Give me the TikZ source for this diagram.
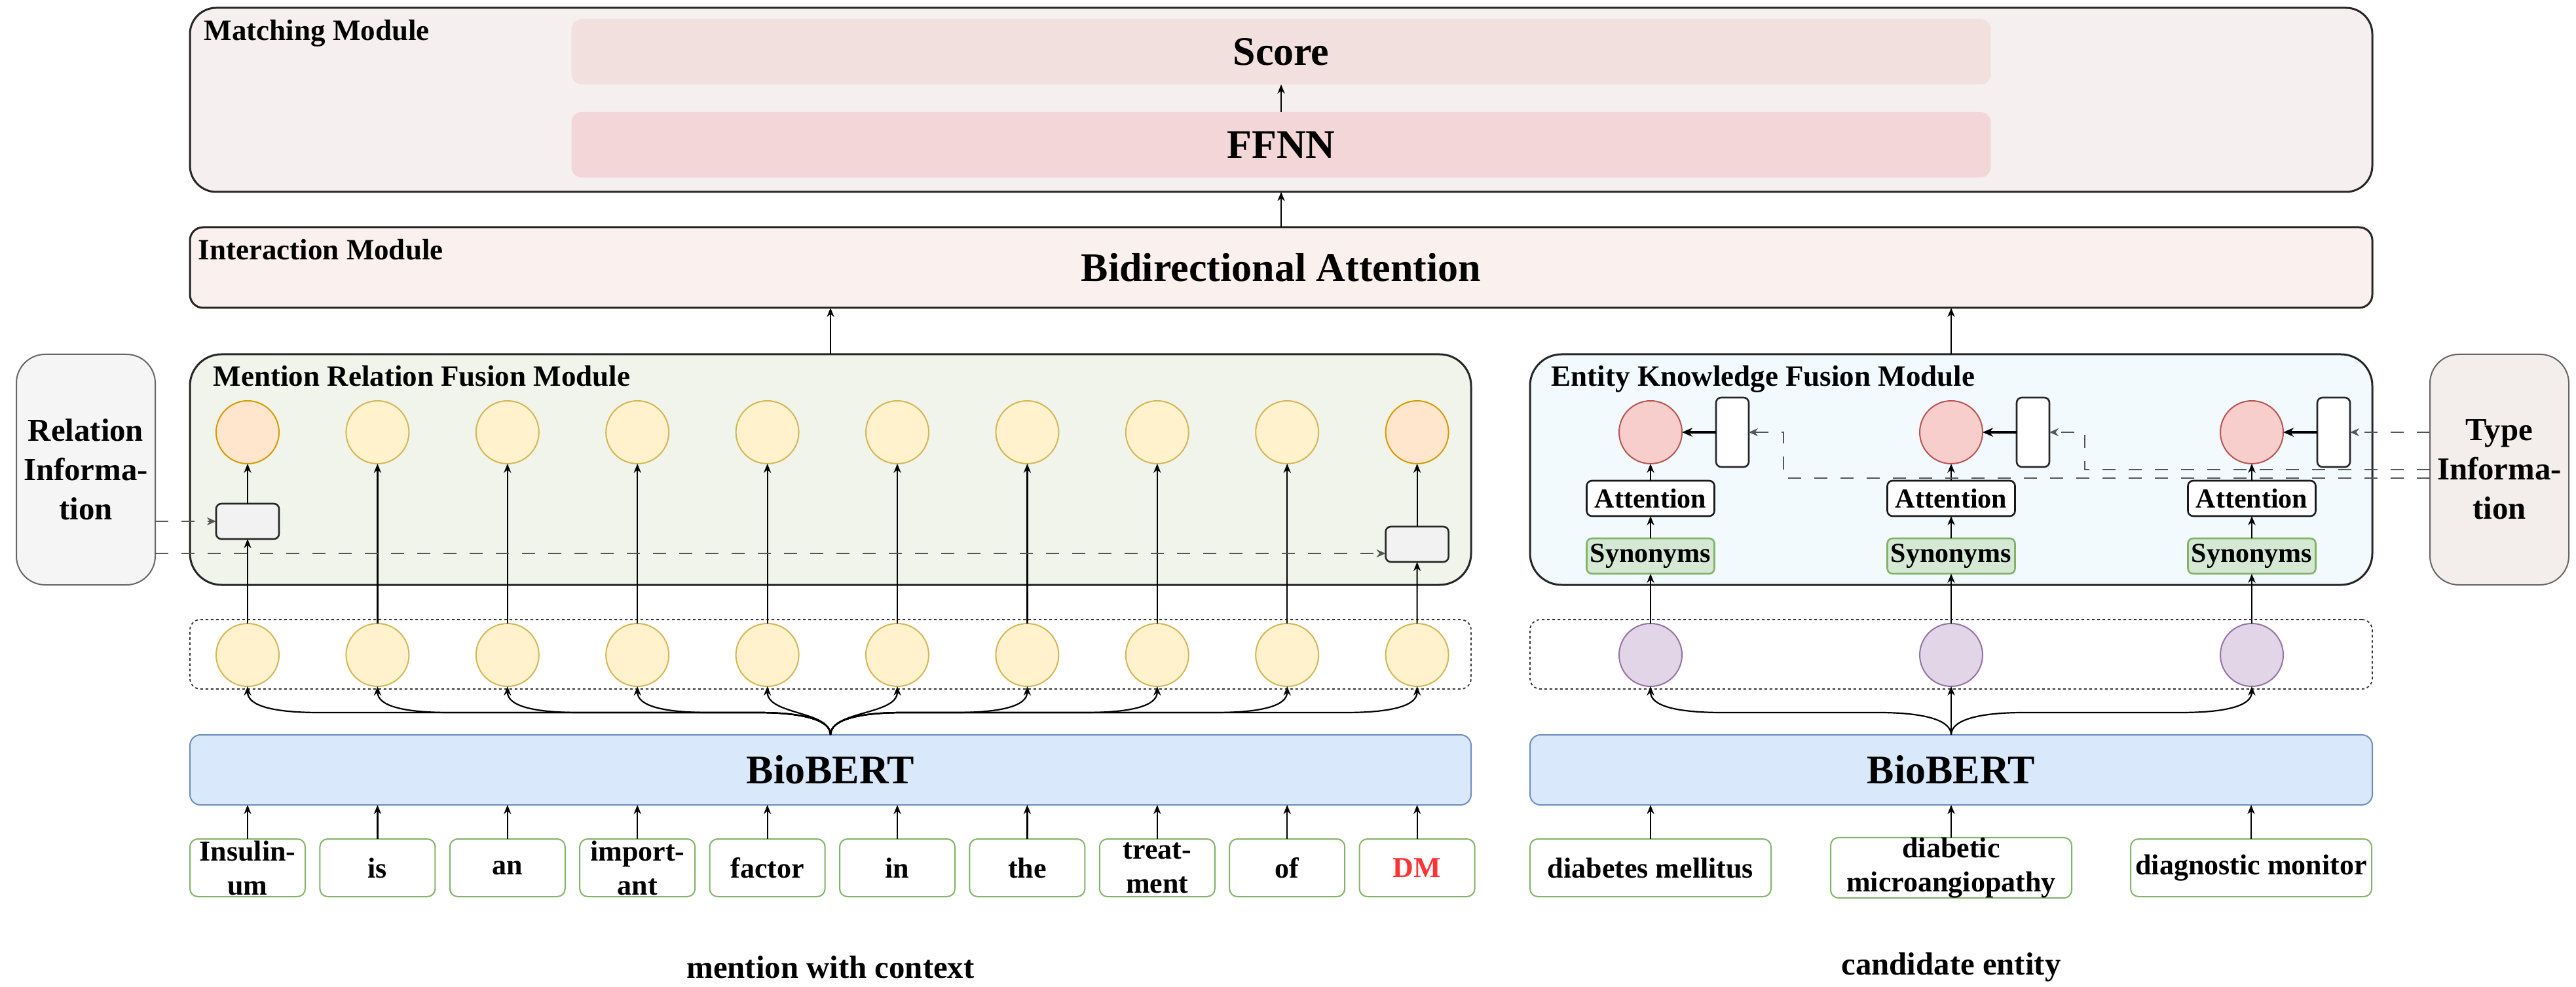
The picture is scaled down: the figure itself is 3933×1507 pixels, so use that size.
\documentclass[tikz,border=0pt]{standalone}
\usepackage{fontspec}
\setmainfont{Liberation Serif}
\usetikzlibrary{arrows.meta,calc}
\definecolor{matchfill}{HTML}{F5EFEF}
\definecolor{scorefill}{HTML}{F2E0DE}
\definecolor{ffnnfill}{HTML}{F2D6D8}
\definecolor{interfill}{HTML}{FAF1EE}
\definecolor{mentfill}{HTML}{F0F4EB}
\definecolor{entfill}{HTML}{F2FAFE}
\definecolor{rifill}{HTML}{F5F5F5}
\definecolor{ridraw}{HTML}{666666}
\definecolor{tyfill}{HTML}{F3EEEB}
\definecolor{yfill}{HTML}{FFF2CC}
\definecolor{ydraw}{HTML}{D6B656}
\definecolor{ofill}{HTML}{FFE6CC}
\definecolor{odraw}{HTML}{D79B00}
\definecolor{pfill}{HTML}{E1D5E7}
\definecolor{pdraw}{HTML}{9673A6}
\definecolor{rfill}{HTML}{F8CECC}
\definecolor{rdraw}{HTML}{B85450}
\definecolor{gfill}{HTML}{D5E8D4}
\definecolor{gdraw}{HTML}{82B366}
\definecolor{bbfill}{HTML}{DAE8FC}
\definecolor{bbdraw}{HTML}{6C8EBF}
\definecolor{sbfill}{HTML}{F2F2F2}
\definecolor{dmred}{HTML}{FF3333}
\definecolor{dgray}{HTML}{555555}
\begin{document}
\begin{tikzpicture}[x=0.25pt,y=-0.25pt,
  box/.style={rectangle, inner sep=0pt, outer sep=0pt},
  mod/.style={box, draw=black!85, line width=0.75pt, rounded corners=12pt},
  bigtxt/.style={font=\bfseries\fontsize{15.5}{18}\selectfont},
  lbl/.style={anchor=base west, inner sep=0pt, font=\bfseries\fontsize{11.25}{13}\selectfont},
  circ/.style={circle, draw, line width=0.5pt, minimum size=24pt, inner sep=0pt, outer sep=0pt},
  ycirc/.style={circ, fill=yfill, draw=ydraw},
  ocirc/.style={circ, fill=ofill, draw=odraw},
  pcirc/.style={circ, fill=pfill, draw=pdraw},
  rcirc/.style={circ, fill=rfill, draw=rdraw},
  tok/.style={box, draw=gdraw, fill=white, line width=0.5pt, rounded corners=3pt, minimum width=44pt, minimum height=22pt, align=center, font=\bfseries\fontsize{11}{13}\selectfont},
  infobox/.style={box, line width=0.5pt, rounded corners=11pt, minimum width=53pt, minimum height=88pt, align=center, font=\bfseries\fontsize{12.2}{15}\selectfont},
  ctn/.style={box, draw=black!80, line width=0.45pt, dash pattern=on 1pt off 1pt, rounded corners=4pt, minimum height=26.5pt},
  bert/.style={box, draw=bbdraw, fill=bbfill, line width=0.5pt, rounded corners=4pt, minimum height=26.75pt, bigtxt},
  smallbox/.style={box, draw=black!85, fill=sbfill, line width=0.65pt, rounded corners=2pt, minimum width=24pt, minimum height=13.5pt},
  tallbox/.style={box, draw=black!85, fill=white, line width=0.65pt, rounded corners=2pt, minimum width=12.5pt, minimum height=26.5pt},
  attbox/.style={box, draw=black!90, fill=white, line width=0.65pt, rounded corners=2pt, minimum width=48.75pt, minimum height=13.5pt, font=\bfseries\fontsize{10.5}{12}\selectfont},
  synbox/.style={attbox, draw=gdraw, fill=gfill},
  arr/.style={-{Stealth[length=3.5pt,width=2.8pt]}, line width=0.55pt},
  thickarr/.style={-{Stealth[length=4pt,width=3.4pt]}, line width=0.9pt},
  dsh/.style={-{Stealth[length=3.5pt,width=3pt]}, draw=dgray, line width=0.65pt, dash pattern=on 5pt off 5pt},
  bottxt/.style={inner sep=0pt, font=\bfseries\fontsize{12.2}{14}\selectfont}
]
\useasboundingbox (0,0) rectangle (3933,1507);
\fill[white] (0,0) rectangle (3933,1507);

% ---------- Matching module ----------
\node[mod, rounded corners=10pt, fill=matchfill, minimum width=833pt, minimum height=70.25pt] (mm) at (1956,152.5) {};
\node[lbl] (mmL) at (311,62) {Matching Module};
\node[box, fill=scorefill, rounded corners=4pt, minimum width=541.75pt, minimum height=25pt, bigtxt] (score) at (1956,79) {Score};
\node[box, fill=ffnnfill, rounded corners=4pt, minimum width=541.75pt, minimum height=25pt, bigtxt] (ffnn) at (1956,221) {FFNN};
\draw[arr] (ffnn.north) -- (score.south);

% ---------- Interaction module ----------
\node[mod, rounded corners=5pt, fill=interfill, minimum width=833pt, minimum height=30.75pt, bigtxt] (im) at (1956,408.5) {Bidirectional Attention};
\node[lbl] (imL) at (302,397) {Interaction Module};
\draw[arr] (im.north) -- (im.north |- mm.south);

% ---------- Fusion modules ----------
\node[mod, fill=mentfill, minimum width=489pt, minimum height=88pt] (mrf) at (1268,717) {};
\node[lbl] (mrfL) at (325,590) {Mention Relation Fusion Module};
\node[mod, fill=entfill, minimum width=321.5pt, minimum height=88pt] (ekf) at (2979,717) {};
\node[lbl] (ekfL) at (2368,590) {Entity Knowledge Fusion Module};
\draw[arr] (mrf.north) -- (mrf.north |- im.south);
\draw[arr] (ekf.north) -- (ekf.north |- im.south);

\node[infobox, draw=ridraw, fill=rifill] (ri) at (131,717) {Relation\\Informa-\\tion};
\node[infobox, draw=ridraw, fill=tyfill] (ty) at (3816,717) {Type\\Informa-\\tion};

% ---------- containers and BioBERT ----------
\node[ctn, minimum width=489pt] (mc) at (1268,999) {};
\node[ctn, minimum width=321.5pt] (ec) at (2979,999) {};
\node[bert, minimum width=489pt] (bm) at (1268,1175.5) {BioBERT};
\node[bert, minimum width=321.5pt] (be) at (2979,1175.5) {BioBERT};

% ---------- mention tokens ----------
\foreach \w [count=\i from 0] in {{Insulin-\\um},is,an,{import-\\ant},factor,in,the,{treat-\\ment},of,{\textcolor{dmred}{DM}}} {
  \pgfmathsetmacro\xx{378+198.4*\i}
  \node[tok] (w\i) at (\xx,1325) {\w};
  \node[ycirc] (l\i) at (\xx,1000) {};
  \draw[arr] (w\i.north) -- (w\i.north |- bm.south);
}
\foreach \i in {1,...,8} {
  \pgfmathsetmacro\xx{378+198.4*\i}
  \node[ycirc] (u\i) at (\xx,660) {};
  \draw[arr] (l\i.north) -- (u\i.south);
}
\node[ocirc] (u0) at (378,660) {};
\node[ocirc] (u9) at (2163.6,660) {};
\node[smallbox] (sb0) at (378,796) {};
\node[smallbox] (sb9) at (2163.6,831) {};
\draw[arr] (l0.north) -- (sb0.south);
\draw[arr] (sb0.north) -- (u0.south);
\draw[arr] (l9.north) -- (sb9.south);
\draw[arr] (sb9.north) -- (u9.south);

\coordinate (sb9in) at ([yshift=-3.5pt]sb9.west);
\draw[dsh] (ri.east |- sb0.west) -- (sb0.west);
\draw[dsh] (sb9in -| ri.east) -- (sb9in);

% fan from mention BioBERT
\foreach \tg/\X/\s in {l0/378/-1, l1/576.4/-1, l2/774.8/-1, l3/973.2/-1, l6/1568.4/1, l7/1766.8/1, l8/1965.2/1, l9/2163.6/1} {
  \pgfmathsetmacro\a{1268+\s*110}
  \pgfmathsetmacro\b{\X-\s*110}
  \pgfmathsetmacro\c{1268+\s*50}
  \pgfmathsetmacro\d{\X-\s*40}
  \draw[arr] (bm.north) .. controls (1268,1097) and (\c,1088) .. (\a,1088) -- (\b,1088) .. controls (\d,1088) and (\X,1078) .. (\tg.south);
}
\foreach \tg/\X in {l4/1171.6, l5/1370} {
  \draw[arr] (bm.north) .. controls (1268,1085) and (\X,1092) .. (\tg.south);
}

% ---------- entity side ----------
\foreach \X [count=\i from 0] in {2520,2979,3438} {
  \node[rcirc] (e\i) at (\X,660) {};
  \node[tallbox] (tb\i) at (\X+125,660) {};
  \node[attbox] (at\i) at (\X,761) {Attention};
  \node[synbox] (sy\i) at (\X,849) {Synonyms};
  \node[pcirc] (p\i) at (\X,1000) {};
  \draw[arr] (p\i.north) -- (sy\i.south);
  \draw[arr] (sy\i.north) -- (at\i.south);
  \draw[arr] (at\i.north) -- (e\i.south);
  \draw[thickarr] (tb\i.west) -- (e\i.east);
}
\node[tok, minimum width=92pt] (c0) at (2520,1325) {diabetes mellitus};
\node[tok, minimum width=92pt] (c1) at (2979,1325) {diabetic\\microangiopathy};
\node[tok, minimum width=92pt] (c2) at (3437,1325) {diagnostic monitor};
\foreach \i in {0,1,2} {
  \draw[arr] (c\i.north) -- (c\i.north |- be.south);
}
\draw[arr] (be.north) -- (p1.south);
\foreach \tg/\X/\s in {p0/2520/-1, p2/3438/1} {
  \pgfmathsetmacro\a{2979+\s*110}
  \pgfmathsetmacro\b{\X-\s*110}
  \pgfmathsetmacro\c{2979+\s*50}
  \pgfmathsetmacro\d{\X-\s*40}
  \draw[arr] (be.north) .. controls (2979,1097) and (\c,1088) .. (\a,1088) -- (\b,1088) .. controls (\d,1088) and (\X,1078) .. (\tg.south);
}

% type information dashed connectors
\draw[dsh] (tb2.east -| ty.west) -- (tb2.east);
\draw[dsh] (ty.west) -| ([xshift=13.5pt]tb1.east) -- (tb1.east);
\coordinate (tyB) at ([yshift=-3.25pt]ty.west);
\draw[dsh] (tyB) -| ([xshift=13.25pt]tb0.east) -- (tb0.east);

% ---------- bottom captions ----------
\node[bottxt] (capm) at (1268,1477) {mention with context};
\node[bottxt] (cape) at (2979,1477) {candidate entity};
\end{tikzpicture}
\end{document}
